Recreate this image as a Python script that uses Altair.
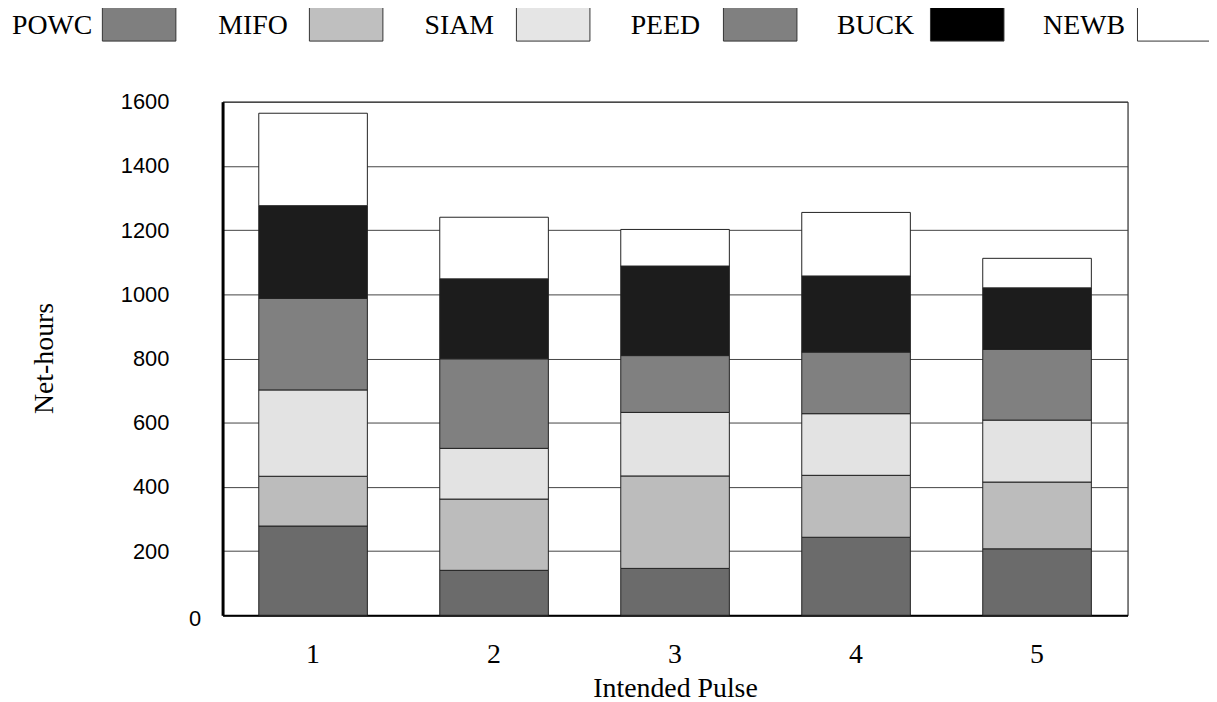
import altair as alt
import pandas as pd

# ---- data -------------------------------------------------------------
pulses = ["1", "2", "3", "4", "5"]
series = ["POWC", "MIFO", "SIAM", "PEED", "BUCK", "NEWB"]
colors = ["#6b6b6b", "#bcbcbc", "#e3e3e3", "#808080", "#1c1c1c", "#ffffff"]
legend_colors = ["#7f7f7f", "#bfbfbf", "#e5e5e5", "#808080", "#000000", "#ffffff"]

powc = [278, 140, 146, 243, 207]
mifo = [155, 222, 288, 193, 208]
siam = [269, 158, 198, 192, 193]
peed = [285, 279, 177, 192, 220]
buck = [289, 249, 279, 237, 192]
newb = [288, 192, 114, 198, 92]

y_ticks = [0, 200, 400, 600, 800, 1000, 1200, 1400, 1600]

values = [powc, mifo, siam, peed, buck, newb]
rows = []
for si, (name, vals) in enumerate(zip(series, values)):
    for p, v in zip(pulses, vals):
        rows.append({"pulse": p, "series": name, "value": v, "idx": si})
df = pd.DataFrame(rows)
leg_df = pd.DataFrame({"series": series})

serif = "Liberation Serif"
sans = "Liberation Sans"

color_scale = alt.Scale(domain=series, range=colors)

bars = alt.Chart(df).mark_bar(stroke="#222222", strokeWidth=1).encode(
    x=alt.X(
        "pulse:O",
        sort=pulses,
        scale=alt.Scale(paddingInner=0.4, paddingOuter=0.2),
        axis=alt.Axis(
            title="Intended Pulse",
            labelAngle=0,
            labelFont=serif,
            labelFontSize=28,
            labelColor="black",
            labelPadding=26,
            ticks=False,
            domainColor="black",
            domainWidth=2,
            titleFont=serif,
            titleFontSize=28,
            titleFontWeight="normal",
            titleColor="black",
            titlePadding=6,
        ),
    ),
    y=alt.Y(
        "value:Q",
        stack="zero",
        scale=alt.Scale(domain=[0, 1600], nice=False),
        axis=alt.Axis(
            title="Net-hours",
            values=y_ticks,
            format="d",
            labelFont=sans,
            labelFontSize=22,
            labelColor="black",
            labelPadding={"condition": {"test": "datum.value == 0", "value": 22}, "value": 54},
            labelOffset={"condition": {"test": "datum.value == 0", "value": 3}, "value": 0},
            ticks=False,
            grid=True,
            gridColor="#444444",
            gridWidth=1,
            domainColor="black",
            domainWidth=3,
            titleFont=serif,
            titleFontSize=28,
            titleFontWeight="normal",
            titleColor="black",
            titleAngle=270,
            titleAlign="center",
            titleBaseline="middle",
            titleX=-179,
            titleY=258,
        ),
    ),
    color=alt.Color("series:N", scale=color_scale, legend=None),
    order=alt.Order("idx:Q", sort="ascending"),
)

leg_text = alt.Chart(leg_df).mark_text(
    align="left", baseline="alphabetic", font=serif, fontSize=28, color="black"
).encode(
    x=alt.X("series:N", sort=series,
            scale=alt.Scale(type="point", domain=series, range=[-212, 826], padding=0),
            axis=None),
    y=alt.value(-68),
    text="series:N",
)

leg_sw = alt.Chart(leg_df).mark_point(
    filled=True,
    shape="M-1,-0.4595L1,-0.4595L1,0.4595L-1,0.4595Z",
    size=5476,
    opacity=1,
    stroke="#333333",
    strokeWidth=1,
).encode(
    x=alt.X("series:N", sort=series,
            scale=alt.Scale(type="point", domain=series, range=[-84, 958], padding=0),
            axis=None),
    y=alt.value(-78),
    fill=alt.Fill("series:N", scale=alt.Scale(domain=series, range=legend_colors), legend=None),
)

chart = alt.layer(bars, leg_text, leg_sw).resolve_scale(
    x="independent", fill="independent", color="independent"
).properties(
    width=911,
    height=517,
    autosize=alt.AutoSizeParams(type="none"),
    padding={"left": 216, "top": 92, "right": 82, "bottom": 85},
    background="white",
).configure_view(stroke="black", strokeWidth=1)

chart.save("out.html", embed_options={"renderer": "svg", "actions": False})
